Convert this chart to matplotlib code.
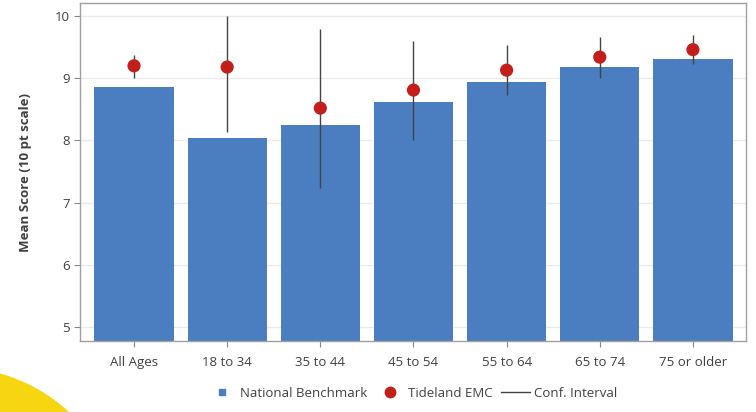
import matplotlib
matplotlib.use("Agg")
import matplotlib.pyplot as plt
from matplotlib.patches import Circle
from matplotlib.lines import Line2D

plt.rcParams['font.family'] = ['Open Sans', 'DejaVu Sans']

groups = ["All Ages", "18 to 34", "35 to 44", "45 to 54", "55 to 64", "65 to 74", "75 or older"]
benchmark = [8.86, 8.04, 8.25, 8.62, 8.94, 9.18, 9.31]
tideland = [9.20, 9.18, 8.52, 8.81, 9.13, 9.34, 9.46]
ci_low = [9.01, 8.14, 7.23, 8.00, 8.73, 9.00, 9.23]
ci_high = [9.37, 10.00, 9.80, 9.60, 9.53, 9.67, 9.69]

bar_col = "#4A7EC0"
dot_col = "#C21F1A"
txt_col = "#404040"

fig = plt.figure(figsize=(7.56, 4.12), dpi=100)

# decorative yellow circle, bottom-left corner
circ = Circle((-45, -123), 167, transform=None, color="#F6D611", zorder=0)
fig.patches.append(circ)

ax = fig.add_axes([0.1058, 0.1723, 0.881, 0.8204])
ax.set_facecolor("white")

x = range(len(groups))
ax.bar(x, benchmark, width=0.85, color=bar_col, zorder=2)
ax.vlines(x, ci_low, ci_high, color="#444444", linewidth=1.0, zorder=3)
ax.scatter(x, tideland, s=90, color=dot_col, zorder=4, edgecolors="none")

ax.set_xlim(-0.58, 6.57)
ax.set_ylim(4.775, 10.21)
ax.set_yticks([5, 6, 7, 8, 9, 10])
ax.set_xticks(list(x))
ax.set_xticklabels(groups)
ax.grid(axis="y", color="#EBEBEB", linewidth=1.0, zorder=0)
ax.set_axisbelow(True)

for s in ax.spines.values():
    s.set_color("#A0A0A0")
    s.set_linewidth(1.0)
ax.tick_params(axis="both", colors="#888888", labelcolor=txt_col, labelsize=9.5, length=4)
ax.tick_params(axis="x", pad=7)

ax.set_ylabel("Mean Score (10 pt scale)", fontsize=9.5, fontweight="bold", color=txt_col, labelpad=16)

handles = [
    Line2D([], [], marker="s", color=bar_col, linestyle="none", markersize=5),
    Line2D([], [], marker="o", color=dot_col, linestyle="none", markersize=7.5),
    Line2D([], [], color="#444444", linewidth=1.0),
]
fig.legend(handles, ["National Benchmark", "Tideland EMC", "Conf. Interval"],
           loc="center", bbox_to_anchor=(0.545, 0.045), ncol=3, frameon=False,
           fontsize=9.5, labelcolor=txt_col, handlelength=2.2, handletextpad=0.3,
           columnspacing=0.6)

fig.savefig("out.png", dpi=100)
